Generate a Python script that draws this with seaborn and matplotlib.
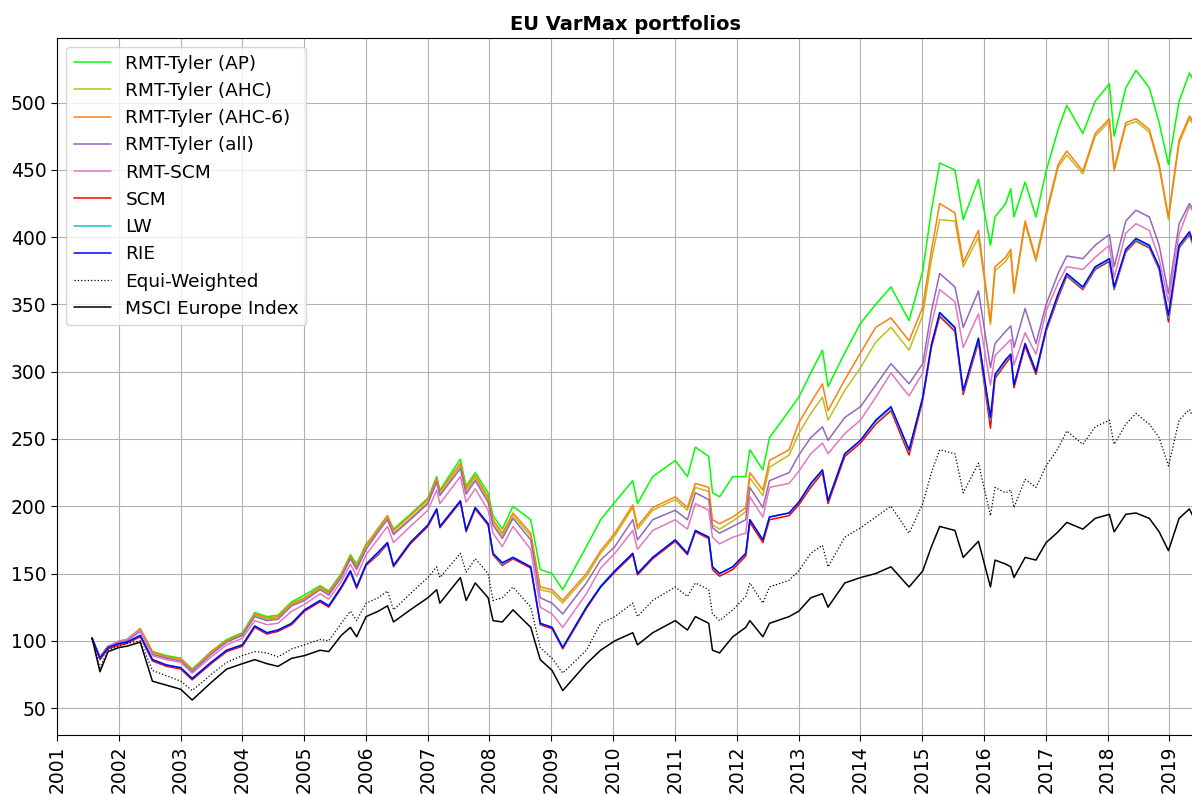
import pandas as pd
import matplotlib
matplotlib.use("Agg")
import matplotlib.pyplot as plt
import matplotlib.dates as mdates
import seaborn as sns

# -----------------------------
# Data
# -----------------------------
dates = [
    "2001-07-27", "2001-09-12", "2001-10-30", "2002-01-02", "2002-02-18", "2002-05-08",
    "2002-07-19", "2002-10-11", "2003-01-02", "2003-03-11", "2003-07-01", "2003-10-01",
    "2004-01-02", "2004-03-15", "2004-05-26", "2004-07-30", "2004-10-19", "2005-01-03",
    "2005-04-05", "2005-05-26", "2005-08-08", "2005-10-01", "2005-11-07", "2006-01-02",
    "2006-03-15", "2006-05-08", "2006-06-13", "2006-09-20", "2007-01-02", "2007-02-23",
    "2007-03-14", "2007-07-13", "2007-08-16", "2007-10-09", "2007-12-24", "2008-01-22",
    "2008-03-17", "2008-05-19", "2008-09-01", "2008-10-27", "2009-01-05", "2009-03-09",
    "2009-07-27", "2009-10-19", "2010-01-11", "2010-04-27", "2010-05-25", "2010-08-23",
    "2011-01-03", "2011-03-16", "2011-05-02", "2011-07-20", "2011-08-11", "2011-09-22",
    "2011-12-09", "2012-02-24", "2012-03-19", "2012-06-04", "2012-07-13", "2012-11-06",
    "2013-01-02", "2013-03-14", "2013-05-22", "2013-06-24", "2013-10-01", "2014-01-02",
    "2014-04-02", "2014-07-01", "2014-10-16", "2015-01-05", "2015-02-25", "2015-04-15",
    "2015-07-14", "2015-09-01", "2015-11-30", "2016-02-09", "2016-03-07", "2016-05-09",
    "2016-06-08", "2016-06-27", "2016-09-01", "2016-11-04", "2017-01-03", "2017-03-15",
    "2017-05-05", "2017-08-08", "2017-10-20", "2018-01-12", "2018-02-09", "2018-04-19",
    "2018-06-18", "2018-09-05", "2018-11-02", "2018-12-27", "2019-02-28", "2019-04-30",
    "2019-05-27",
]

tyler_ap = [
    102, 88, 96, 99, 101, 109, 92, 89, 87, 79, 92, 101,
    106, 121, 118, 119, 129, 134, 141, 137, 150, 164, 157, 172,
    182, 193, 183, 194, 206, 222, 212, 235, 215, 225, 210, 193,
    183, 200, 190, 153, 150, 138, 170, 190, 203, 219, 202, 222,
    234, 222, 244, 237, 210, 207, 222, 222, 242, 227, 251, 271,
    281, 299, 316, 289, 314, 336, 350, 363, 338, 375, 420, 455,
    450, 413, 443, 394, 415, 425, 436, 415, 441, 415, 449, 480,
    498, 477, 501, 514, 475, 511, 524, 511, 485, 454, 501, 522,
    516,
]
tyler_ahc6 = [
    102, 88, 96, 99, 101, 109, 92, 88, 87, 78, 92, 100,
    105, 120, 117, 118, 128, 132, 140, 136, 149, 163, 155, 171,
    184, 193, 182, 193, 205, 221, 211, 232, 213, 223, 207, 190,
    180, 195, 180, 140, 138, 130, 150, 167, 180, 201, 185, 199,
    207, 199, 217, 214, 190, 187, 192, 199, 225, 212, 234, 242,
    262, 277, 291, 271, 294, 314, 333, 340, 323, 348, 390, 425,
    418, 381, 405, 337, 378, 385, 391, 360, 412, 384, 418, 454,
    464, 449, 477, 488, 451, 485, 488, 480, 454, 415, 472, 490,
    485,
]
tyler_ahc = [
    102, 88, 96, 99, 101, 108, 91, 88, 86, 78, 91, 100,
    105, 119, 116, 117, 127, 131, 139, 135, 148, 162, 154, 170,
    182, 191, 180, 191, 203, 219, 209, 230, 211, 221, 205, 188,
    178, 193, 178, 138, 136, 128, 148, 165, 178, 199, 183, 197,
    205, 197, 214, 211, 186, 183, 189, 196, 221, 208, 229, 238,
    254, 269, 281, 264, 286, 303, 322, 333, 316, 342, 383, 413,
    412, 378, 400, 335, 375, 382, 388, 358, 410, 382, 415, 452,
    461, 447, 475, 486, 449, 483, 486, 478, 452, 413, 470, 488,
    483,
]
tyler_all = [
    102, 88, 96, 99, 100, 107, 90, 87, 85, 77, 90, 99,
    104, 118, 115, 116, 126, 130, 138, 134, 147, 161, 153, 168,
    181, 190, 179, 190, 202, 218, 208, 228, 209, 219, 203, 186,
    176, 191, 175, 132, 128, 120, 143, 160, 170, 190, 175, 190,
    197, 190, 210, 205, 184, 180, 185, 190, 214, 199, 219, 225,
    238, 251, 259, 249, 266, 274, 290, 306, 291, 306, 345, 373,
    363, 333, 360, 303, 321, 330, 334, 318, 347, 321, 350, 373,
    386, 384, 394, 402, 378, 412, 420, 415, 394, 358, 410, 425,
    420,
]
rmt_scm = [
    102, 88, 96, 100, 101, 108, 89, 86, 84, 76, 88, 97,
    102, 115, 112, 113, 122, 127, 135, 131, 144, 157, 148, 164,
    176, 185, 173, 185, 197, 212, 202, 222, 203, 213, 197, 180,
    170, 185, 168, 125, 120, 110, 135, 154, 165, 182, 168, 182,
    190, 183, 202, 197, 177, 172, 177, 180, 207, 192, 214, 217,
    226, 239, 247, 239, 254, 264, 281, 299, 282, 299, 335, 361,
    352, 318, 343, 290, 312, 320, 324, 305, 329, 313, 345, 366,
    378, 376, 385, 394, 370, 403, 410, 405, 384, 352, 402, 423,
    418,
]
scm = [
    102, 86, 94, 97, 98, 103, 85, 81, 79, 71, 83, 92,
    96, 110, 105, 107, 112, 122, 129, 125, 139, 151, 139, 156,
    164, 172, 155, 172, 185, 197, 184, 203, 181, 198, 186, 164,
    156, 161, 154, 112, 109, 94, 124, 140, 151, 164, 149, 161,
    174, 164, 181, 176, 153, 148, 153, 163, 188, 173, 190, 193,
    201, 214, 225, 202, 237, 247, 261, 271, 238, 279, 318, 341,
    330, 283, 322, 258, 295, 306, 311, 288, 319, 298, 330, 355,
    371, 361, 376, 382, 361, 389, 397, 392, 376, 337, 392, 402,
    392,
]
lw = [
    102, 87, 95, 98, 99, 104, 86, 82, 80, 72, 84, 93,
    97, 111, 106, 108, 113, 123, 130, 126, 140, 152, 140, 157,
    165, 173, 156, 173, 186, 198, 185, 204, 182, 199, 187, 165,
    157, 162, 155, 113, 110, 95, 125, 141, 152, 165, 150, 162,
    175, 165, 182, 177, 155, 150, 155, 165, 190, 175, 192, 195,
    203, 216, 227, 204, 239, 249, 263, 273, 241, 281, 320, 343,
    332, 285, 324, 264, 297, 308, 313, 290, 321, 300, 331, 357,
    372, 362, 377, 383, 362, 390, 398, 393, 377, 340, 393, 403,
    393,
]
rie = [
    102, 87, 95, 98, 99, 104, 86, 82, 80, 72, 84, 93,
    97, 111, 106, 108, 113, 123, 130, 126, 140, 152, 140, 157,
    166, 173, 156, 173, 186, 198, 185, 204, 182, 199, 187, 165,
    158, 162, 155, 113, 110, 95, 125, 140, 152, 165, 150, 162,
    175, 165, 182, 177, 155, 150, 155, 165, 190, 175, 192, 195,
    203, 217, 227, 204, 239, 249, 264, 274, 242, 281, 320, 344,
    333, 286, 325, 266, 298, 309, 313, 290, 321, 300, 332, 358,
    373, 363, 378, 384, 363, 391, 399, 394, 378, 342, 394, 404,
    394,
]
equi_weighted = [
    102, 80, 93, 96, 98, 100, 78, 74, 70, 63, 75, 84,
    89, 92, 91, 88, 94, 97, 101, 100, 113, 122, 115, 128,
    132, 137, 123, 135, 147, 155, 147, 165, 151, 161, 150, 130,
    132, 140, 125, 95, 87, 76, 93, 113, 118, 128, 118, 130,
    140, 133, 143, 138, 120, 115, 123, 133, 143, 128, 140, 145,
    152, 165, 171, 155, 177, 184, 192, 200, 180, 202, 225, 242,
    239, 210, 232, 193, 214, 210, 212, 199, 220, 214, 230, 243,
    256, 246, 259, 264, 246, 261, 269, 261, 251, 230, 264, 272,
    265,
]
msci_europe = [
    102, 77, 92, 95, 96, 99, 70, 67, 64, 56, 69, 79,
    83, 86, 83, 81, 87, 89, 93, 92, 104, 110, 103, 118,
    122, 126, 114, 123, 132, 138, 128, 147, 130, 143, 132, 115,
    114, 123, 110, 86, 78, 63, 83, 93, 100, 106, 97, 106,
    115, 108, 118, 113, 93, 91, 103, 110, 115, 103, 113, 118,
    122, 132, 135, 125, 143, 147, 150, 155, 140, 152, 170, 185,
    182, 162, 174, 140, 160, 157, 155, 147, 162, 160, 173, 181,
    188, 183, 191, 194, 181, 194, 195, 191, 181, 167, 191, 198,
    191,
]

series_names = [
    "RMT-Tyler (AP)", "RMT-Tyler (AHC)", "RMT-Tyler (AHC-6)", "RMT-Tyler (all)",
    "RMT-SCM", "SCM", "LW", "RIE", "Equi-Weighted", "MSCI Europe Index",
]
series_values = [
    tyler_ap, tyler_ahc, tyler_ahc6, tyler_all, rmt_scm,
    scm, lw, rie, equi_weighted, msci_europe,
]
series_colors = [
    "#00ff00", "#bcbd22", "#ff7f0e", "#9467bd", "#e377c2",
    "#ff0000", "#17becf", "#0000ff", "black", "black",
]
series_styles = ["-", "-", "-", "-", "-", "-", "-", "-", ":", "-"]

x = pd.to_datetime(dates)

# -----------------------------
# Plot
# -----------------------------
sns.set_style("white")
plt.rcParams["font.family"] = ["DejaVu Sans"]
plt.rcParams["text.color"] = "black"
plt.rcParams["xtick.color"] = "black"
plt.rcParams["ytick.color"] = "black"

fig = plt.figure(figsize=(11.92, 7.94), dpi=100)
ax = fig.add_axes([57 / 1192, 59 / 794, 1137 / 1192, 697 / 794])

for name, vals, color, ls in zip(series_names, series_values, series_colors, series_styles):
    sns.lineplot(x=x, y=vals, ax=ax, color=color, linestyle=ls,
                 linewidth=1.1 if ls == "-" else 0.9, label=name)

ax.set_xlim(pd.Timestamp("2001-01-01"), pd.Timestamp("2019-05-27"))
ax.set_ylim(30, 548)
ax.set_yticks(range(50, 501, 50))
ax.xaxis.set_major_locator(mdates.YearLocator())
ax.xaxis.set_major_formatter(mdates.DateFormatter("%Y"))
ax.tick_params(axis="x", labelrotation=90, labelsize=13.5, length=4, direction="out", bottom=True)
ax.tick_params(axis="y", labelsize=13.5, length=4, direction="out", left=True)
ax.grid(True, color="#b0b0b0", linewidth=0.8)
ax.set_axisbelow(True)
for side in ["left", "bottom", "top"]:
    ax.spines[side].set_color("black")
    ax.spines[side].set_linewidth(0.8)
ax.spines["right"].set_visible(False)
ax.set_xlabel("")
ax.set_ylabel("")
ax.set_title("EU VarMax portfolios", fontsize=14, fontweight="bold", pad=6)

ax.legend(loc="upper left", fontsize=13.3, frameon=True, framealpha=0.8,
          edgecolor="#cccccc", handlelength=2.0, borderpad=0.4, labelspacing=0.5)

fig.savefig("out.png", dpi=100)
